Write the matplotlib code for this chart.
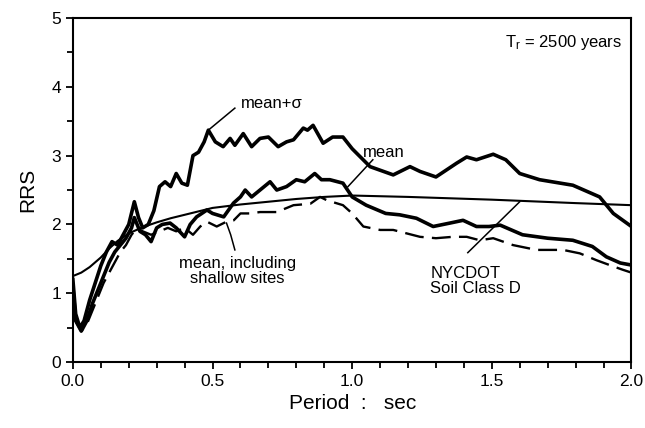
import matplotlib.pyplot as plt
import numpy as np
from matplotlib.ticker import MultipleLocator

plt.rcParams['font.family'] = ['Liberation Sans', 'DejaVu Sans']

# NYCDOT Soil Class D (smooth)
t_code = [0.0, 0.03, 0.06, 0.1, 0.13, 0.16, 0.2, 0.25, 0.3, 0.35, 0.4, 0.45, 0.5,
          0.6, 0.7, 0.8, 0.9, 1.0, 1.2, 1.5, 1.8, 2.0]
rrs_code = [1.25, 1.3, 1.38, 1.52, 1.65, 1.76, 1.87, 1.96, 2.03, 2.09, 2.14, 2.19, 2.24,
            2.29, 2.33, 2.37, 2.4, 2.42, 2.4, 2.36, 2.31, 2.28]

# mean + sigma
t_msig = [0.0, 0.01, 0.025, 0.04, 0.06, 0.08, 0.1, 0.12, 0.14, 0.16, 0.18, 0.2, 0.22,
          0.235, 0.25, 0.27, 0.29, 0.31, 0.33, 0.35, 0.37, 0.39, 0.41, 0.43, 0.45, 0.47,
          0.485, 0.51, 0.538, 0.563, 0.58, 0.61, 0.64, 0.67, 0.70, 0.735, 0.765, 0.79,
          0.825, 0.84, 0.86, 0.896, 0.93, 0.967, 1.0, 1.064, 1.147, 1.207, 1.243, 1.30,
          1.374, 1.41, 1.445, 1.505, 1.55, 1.60, 1.671, 1.79, 1.886, 1.935, 2.0]
rrs_msig = [1.2, 0.7, 0.5, 0.6, 0.9, 1.15, 1.4, 1.6, 1.75, 1.7, 1.85, 2.0, 2.33,
            2.1, 1.95, 2.0, 2.2, 2.55, 2.62, 2.55, 2.74, 2.6, 2.57, 3.0, 3.05, 3.2,
            3.37, 3.2, 3.13, 3.25, 3.15, 3.32, 3.13, 3.25, 3.27, 3.13, 3.2, 3.23,
            3.4, 3.37, 3.44, 3.18, 3.27, 3.27, 3.1, 2.84, 2.72, 2.84, 2.77, 2.69,
            2.89, 2.98, 2.94, 3.02, 2.94, 2.74, 2.65, 2.57, 2.4, 2.16, 1.97]

# mean
t_mean = [0.0, 0.01, 0.03, 0.05, 0.07, 0.09, 0.11, 0.13, 0.15, 0.17, 0.19, 0.21, 0.22,
          0.24, 0.26, 0.28, 0.30, 0.32, 0.348, 0.37, 0.40, 0.42, 0.443, 0.48, 0.50, 0.54,
          0.575, 0.60, 0.617, 0.64, 0.67, 0.706, 0.73, 0.765, 0.80, 0.83, 0.866, 0.89,
          0.92, 0.967, 1.0, 1.05, 1.12, 1.17, 1.23, 1.29, 1.35, 1.397, 1.445, 1.49, 1.53,
          1.61, 1.70, 1.79, 1.86, 1.91, 1.96, 2.0]
rrs_mean = [1.1, 0.6, 0.45, 0.6, 0.85, 1.05, 1.25, 1.45, 1.6, 1.7, 1.8, 1.95, 2.1,
            1.9, 1.85, 1.75, 1.95, 2.0, 2.02, 1.95, 1.82, 2.0, 2.11, 2.21, 2.16, 2.11,
            2.31, 2.4, 2.5, 2.4, 2.5, 2.62, 2.5, 2.55, 2.65, 2.62, 2.74, 2.65,
            2.65, 2.6, 2.4, 2.28, 2.16, 2.14, 2.09, 1.97, 2.02, 2.06, 1.97, 1.97, 1.99,
            1.85, 1.8, 1.77, 1.68, 1.53, 1.44, 1.41]

# mean, including shallow sites
t_shal = [0.0, 0.01, 0.03, 0.05, 0.07, 0.09, 0.11, 0.13, 0.15, 0.17, 0.19, 0.21, 0.23,
          0.25, 0.28, 0.31, 0.34, 0.37, 0.40, 0.43, 0.456, 0.48, 0.515, 0.55, 0.576, 0.60,
          0.634, 0.67, 0.73, 0.79, 0.85, 0.885, 0.91, 0.967, 1.0, 1.04, 1.10, 1.147,
          1.195, 1.243, 1.30, 1.36, 1.41, 1.457, 1.505, 1.576, 1.66, 1.755, 1.815,
          1.875, 1.935, 1.97, 2.0]
rrs_shal = [1.05, 0.6, 0.45, 0.55, 0.75, 0.95, 1.15, 1.3, 1.45, 1.6, 1.7, 1.85, 1.95,
            1.9, 1.85, 1.9, 1.95, 1.9, 1.95, 1.85, 1.97, 2.04, 1.97, 2.04, 2.06, 2.16,
            2.16, 2.18, 2.18, 2.28, 2.3, 2.4, 2.35, 2.28, 2.16, 1.97, 1.92, 1.92,
            1.87, 1.82, 1.8, 1.82, 1.82, 1.77, 1.8, 1.7, 1.63, 1.63, 1.58,
            1.48, 1.39, 1.34, 1.3]

fig = plt.figure(figsize=(6.45, 4.28), dpi=100)
ax = fig.add_axes([0.113, 0.154, 0.866, 0.804])

ax.plot(t_code, rrs_code, color='black', lw=1.5)
ax.plot(t_msig, rrs_msig, color='black', lw=2.6, solid_joinstyle='round')
ax.plot(t_mean, rrs_mean, color='black', lw=2.6, solid_joinstyle='round')
ax.plot(t_shal, rrs_shal, color='black', lw=1.7, dashes=(8, 3.5))

ax.set_xlim(0, 2.0)
ax.set_ylim(0, 5)
ax.xaxis.set_major_locator(MultipleLocator(0.5))
ax.xaxis.set_minor_locator(MultipleLocator(0.1))
ax.yaxis.set_major_locator(MultipleLocator(1))
ax.yaxis.set_minor_locator(MultipleLocator(0.5))
ax.xaxis.set_major_formatter(plt.FormatStrFormatter('%.1f'))
ax.tick_params(which='both', direction='out', width=1.3, labelsize=12.5, top=False, right=False)
ax.tick_params(which='major', length=5)
ax.tick_params(which='minor', length=4)
for s in ax.spines.values():
    s.set_linewidth(1.5)

ax.set_xlabel('Period  :   sec', fontsize=15)
ax.set_ylabel('RRS', fontsize=15, labelpad=10)

# annotations
ax.text(0.60, 3.76, 'mean+σ', fontsize=12, va='center', ha='left')
ax.plot([0.485, 0.58], [3.37, 3.69], color='black', lw=1.1)

ax.text(1.04, 3.05, 'mean', fontsize=12, va='center', ha='left')
ax.plot([0.985, 1.074], [2.55, 2.94], color='black', lw=1.1)

ax.text(0.59, 1.33, 'mean, including\nshallow sites', fontsize=12, ha='center',
        va='center', linespacing=1.0)
ax.plot([0.58, 0.565, 0.55], [1.63, 1.85, 2.02], color='black', lw=1.1)

ax.text(1.28, 1.18, 'NYCDOT\nSoil Class D', fontsize=12, ha='left', va='center',
        linespacing=1.05)
ax.plot([1.414, 1.60], [1.59, 2.33], color='black', lw=1.1)

ax.text(1.965, 4.65, r'$\mathregular{T_r}$ = 2500 years', fontsize=12, ha='right', va='center')

fig.savefig('out.png', dpi=100)
